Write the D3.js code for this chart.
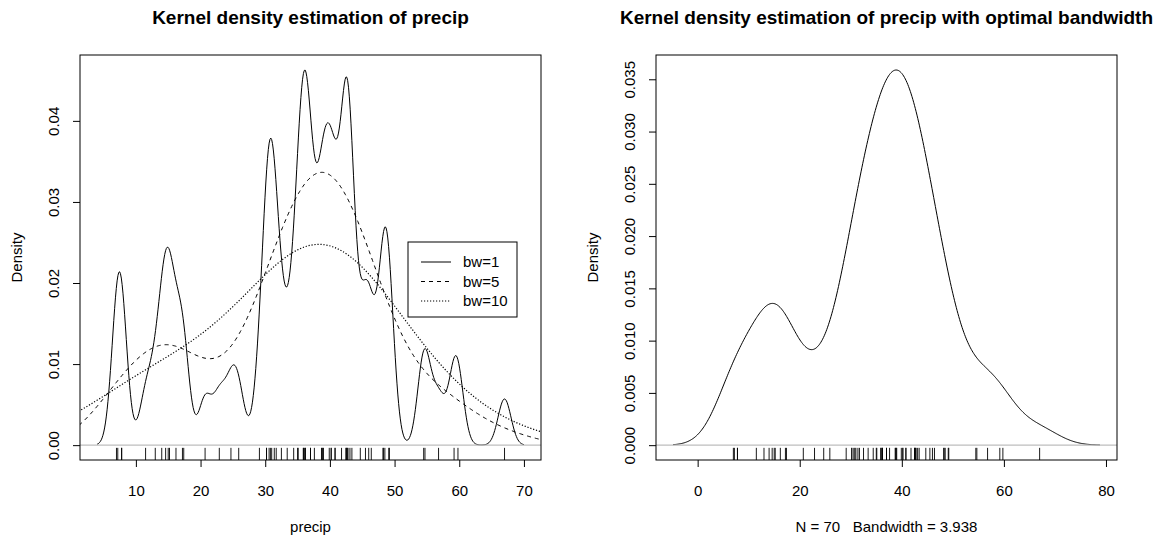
<!DOCTYPE html>
<meta charset="utf-8">
<script src="https://d3js.org/d3.v7.min.js"></script>
<style>
  body { margin: 0; background: #fff; }
  text { font-family: "Liberation Sans", Arial, sans-serif; fill: #000; white-space: pre; }
</style>
<div id="my_dataviz"></div>
<script>

  // annual precipitation (inches) of 70 US cities, as shown by the rug marks
  var precip = [67.0, 54.7, 7.0, 48.5, 14.0, 17.2, 20.7, 13.0, 43.4, 40.2,
                38.9, 54.5, 59.8, 48.3, 22.9, 11.5, 34.4, 35.1, 38.7, 30.8,
                30.6, 43.1, 56.8, 40.8, 41.8, 42.5, 31.0, 31.7, 30.2, 25.9,
                49.2, 37.0, 35.9, 15.0, 30.2, 7.2, 36.2, 45.5, 7.8, 33.4,
                36.1, 40.2, 42.7, 42.5, 16.2, 39.0, 35.0, 37.0, 31.4, 37.6,
                39.9, 36.2, 42.8, 46.4, 24.7, 49.1, 46.0, 35.9, 7.8, 48.2,
                15.2, 32.5, 44.7, 42.6, 38.8, 17.4, 40.8, 29.1, 14.6, 59.2];

  // bandwidths of the left panel, with their legend labels and line types
  var leftBandwidths = [1, 5, 10];
  var leftLabels = ["bw=1", "bw=5", "bw=10"];
  var leftDashes = [null, "4,4", "1.2,1.8"];

  // bandwidth of the right panel (bw.nrd0)
  var optimalBw = 3.938;

  // tick labels
  var leftXTicks = [10, 20, 30, 40, 50, 60, 70];
  var leftYTicks = [0, 0.01, 0.02, 0.03, 0.04];
  var rightXTicks = [0, 20, 40, 60, 80];
  var rightYTicks = [0, 0.005, 0.010, 0.015, 0.020, 0.025, 0.030, 0.035];

  var titles = ["Kernel density estimation of precip",
                "Kernel density estimation of precip with optimal bandwidth"];
  var xLabels = ["precip", "N = 70   Bandwidth = 3.938"];

  // gaussian kernel density, evaluated like R's density(): 512 points, cut = 3
  function density(data, bw) {
    var lo = d3.min(data) - 3 * bw, hi = d3.max(data) + 3 * bw, n = 512;
    var pts = [];
    for (var i = 0; i < n; i++) {
      var x = lo + (hi - lo) * i / (n - 1);
      var s = 0;
      data.forEach(function(v) {
        var z = (x - v) / bw;
        s += Math.exp(-0.5 * z * z);
      });
      pts.push({x: x, y: s / (data.length * bw * Math.sqrt(2 * Math.PI))});
    }
    return pts;
  }

  // R style axis range: data range widened by 4%
  function rRange(ext) {
    var d = (ext[1] - ext[0]) * 0.04;
    return [ext[0] - d, ext[1] + d];
  }

  var W = 1159, H = 537;
  var svg = d3.select("#my_dataviz")
    .append("svg")
      .attr("width", W)
      .attr("height", H);

  var panels = [
    {left: 80, right: 541, top: 55, bottom: 460},
    {left: 656, right: 1117, top: 55, bottom: 460}
  ];

  function drawPanel(p, idx, mainDens, xTicks, yTicks, yFmt) {
    var x = d3.scaleLinear()
      .domain(rRange(d3.extent(mainDens, function(d) { return d.x; })))
      .range([p.left, p.right]);
    var y = d3.scaleLinear()
      .domain(rRange(d3.extent(mainDens, function(d) { return d.y; })))
      .range([p.bottom, p.top]);

    var g = svg.append("g");

    g.append("clipPath").attr("id", "clip" + idx)
      .append("rect")
        .attr("x", p.left).attr("y", p.top)
        .attr("width", p.right - p.left).attr("height", p.bottom - p.top);

    var plot = g.append("g").attr("clip-path", "url(#clip" + idx + ")");

    // x axis
    g.append("g")
      .attr("transform", "translate(0," + p.bottom + ")")
      .call(d3.axisBottom(x).tickValues(xTicks).tickSize(7).tickPadding(18)
        .tickFormat(d3.format("d")))
      .call(function(a) {
        a.select(".domain").remove();
        a.selectAll("line").attr("stroke", "#000");
        a.selectAll("text").attr("font-size", 15).attr("font-family", "Liberation Sans");
      });

    // y axis, labels rotated as in R
    var ya = g.append("g")
      .attr("transform", "translate(" + p.left + ",0)")
      .call(d3.axisLeft(y).tickValues(yTicks).tickSize(7).tickFormat(yFmt))
      .call(function(a) { a.select(".domain").remove(); a.selectAll("line").attr("stroke", "#000"); });
    ya.selectAll("text")
      .attr("x", null).attr("dy", null)
      .attr("text-anchor", "middle")
      .attr("font-size", 15).attr("font-family", "Liberation Sans")
      .attr("transform", "translate(-21,0) rotate(-90)");

    // rug
    g.append("g").selectAll("line")
      .data(precip)
      .enter()
      .append("line")
        .attr("x1", function(d) { return x(d); })
        .attr("x2", function(d) { return x(d); })
        .attr("y1", p.bottom)
        .attr("y2", p.bottom - 0.03 * (p.bottom - p.top))
        .attr("stroke", "#000")
        .attr("stroke-width", 0.9);

    // box
    g.append("rect")
      .attr("x", p.left).attr("y", p.top)
      .attr("width", p.right - p.left).attr("height", p.bottom - p.top)
      .attr("fill", "none").attr("stroke", "#000").attr("stroke-width", 1);

    // title and labels
    g.append("text")
      .attr("x", (p.left + p.right) / 2).attr("y", 24)
      .attr("text-anchor", "middle")
      .attr("font-size", 19).attr("font-weight", "bold")
      .text(titles[idx]);
    g.append("text")
      .attr("x", (p.left + p.right) / 2).attr("y", 532)
      .attr("text-anchor", "middle")
      .attr("font-size", 15)
      .text(xLabels[idx]);
    g.append("text")
      .attr("transform", "translate(" + (p.left - 58.5) + "," + ((p.top + p.bottom) / 2) + ") rotate(-90)")
      .attr("text-anchor", "middle")
      .attr("font-size", 15)
      .text("Density");

    return {x: x, y: y, plot: plot, p: p};
  }

  // gray zero line, drawn over the curves like abline(h = 0)
  function zeroLine(s) {
    s.plot.append("line")
      .attr("x1", s.p.left).attr("x2", s.p.right)
      .attr("y1", s.y(0)).attr("y2", s.y(0))
      .attr("stroke", "#bebebe").attr("stroke-width", 1.2);
  }

  var line = function(s) {
    return d3.line()
      .x(function(d) { return s.x(d.x); })
      .y(function(d) { return s.y(d.y); });
  };

  // left panel: three bandwidths, axis range from bw=1
  var leftDens = leftBandwidths.map(function(bw) { return density(precip, bw); });
  var L = drawPanel(panels[0], 0, leftDens[0], leftXTicks, leftYTicks, d3.format(".2f"));
  leftDens.forEach(function(dd, i) {
    L.plot.append("path")
      .datum(dd)
      .attr("d", line(L))
      .attr("fill", "none")
      .attr("stroke", "#000")
      .attr("stroke-width", i == 2 ? 1.2 : 1)
      .attr("stroke-dasharray", leftDashes[i]);
    if (i == 0) zeroLine(L);
  });

  // legend
  var lg = svg.append("g");
  lg.append("rect")
    .attr("x", 408).attr("y", 242).attr("width", 109).attr("height", 75)
    .attr("fill", "#fff").attr("stroke", "#000");
  leftLabels.forEach(function(lab, i) {
    var yy = 262 + i * 19.5;
    lg.append("line")
      .attr("x1", 421).attr("x2", 451).attr("y1", yy).attr("y2", yy)
      .attr("stroke", "#000")
      .attr("stroke-width", i == 2 ? 1.2 : 1)
      .attr("stroke-dasharray", leftDashes[i]);
    lg.append("text")
      .attr("x", 463).attr("y", yy + 5)
      .attr("font-size", 15)
      .text(lab);
  });

  // right panel: optimal bandwidth
  var rightDens = density(precip, optimalBw);
  var R = drawPanel(panels[1], 1, rightDens, rightXTicks, rightYTicks, d3.format(".3f"));
  R.plot.append("path")
    .datum(rightDens)
    .attr("d", line(R))
    .attr("fill", "none")
    .attr("stroke", "#000")
    .attr("stroke-width", 1);
  zeroLine(R);

</script>
